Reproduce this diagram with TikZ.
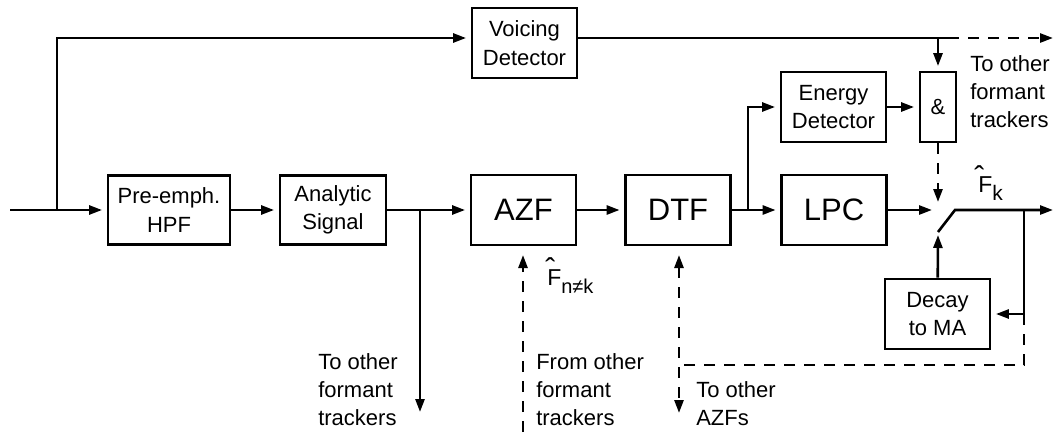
\documentclass[tikz,border=0pt]{standalone}
\usepackage{fontspec}
\setmainfont{Liberation Sans}
\usetikzlibrary{arrows.meta}
\newcommand{\hatF}[2]{\makebox[0pt][l]{\hspace{#1}\raisebox{#2}{\fontsize{30}{30}\selectfont ˆ}}F}
\begin{document}
\begin{tikzpicture}[x=1pt,y=-1pt,
  line width=2.6pt,
  box/.style={draw,line width=2.8pt,minimum width=105pt,minimum height=70pt,inner sep=0pt,align=center,font=\fontsize{22}{28.5}\selectfont},
  bigbox/.style={box,font=\fontsize{31}{36}\selectfont},
  arr/.style={-{Triangle[length=13pt,width=9pt]}},
  toin/.style={arr,shorten >=4.5pt},
  dsh/.style={dash pattern=on 11pt off 9pt},
  lbl/.style={inner sep=0pt,align=left,anchor=north west,font=\fontsize{22}{28}\selectfont},
  flbl/.style={inner sep=0pt,anchor=base west,font=\fontsize{23}{23}\selectfont}]
\useasboundingbox (0,0) rectangle (1058,432);
% boxes
\node[box,minimum width=122pt,minimum height=69pt] (pre) at (169,210) {Pre-emph.\\HPF};
\node[box,minimum width=106pt,minimum height=69pt] (ana) at (333,210) {Analytic\\Signal};
\node[bigbox] (azf) at (523.5,210) {AZF};
\node[bigbox] (dtf) at (678,210) {DTF};
\node[bigbox] (lpc) at (834,210) {LPC};
\node[box] (voice) at (524.5,43) {Voicing\\Detector};
\node[box] (energy) at (833.5,107) {Energy\\Detector};
\node[box,minimum width=36pt] (and) at (938,107) {\&};
\node[box] (decay) at (937.5,314) {Decay\\to MA};
% coordinates
\coordinate (in) at (10,210);
\coordinate (b1) at (57,210);
\coordinate (vt) at (57,38);
\coordinate (vs) at (938,38);
\coordinate (ve) at (948,38);
\coordinate (vout) at (1053,38);
\coordinate (b2) at (420,210);
\coordinate (b2e) at (420,412);
\coordinate (b3) at (748,210);
\coordinate (sw) at (932,210);
\coordinate (swdn) at (938,202);
\coordinate (bl) at (938,232);
\coordinate (bh) at (955,210);
\coordinate (out) at (1053,210);
\coordinate (fb) at (1024,210);
\coordinate (fbj) at (1024,314);
\coordinate (fbc) at (1024,365);
\coordinate (dc) at (679,365);
\coordinate (dtop) at (679,255);
\coordinate (dbot) at (679,413);
\coordinate (azb) at (523,432);
\coordinate (azt) at (523,255);
\coordinate (dtip) at (938,235);
% connectors
\draw[toin] (in) -- (pre);
\draw[toin] (b1) -- (vt) -- (vt -| voice.west);
\draw (voice.east |- vt) -- (ve);
\draw[arr,dsh] (ve) -- (vout);
\draw[toin] (vs) -- (and);
\draw[toin] (pre) -- (ana);
\draw[toin] (ana) -- (azf);
\draw[arr] (b2) -- (b2e);
\draw[toin] (azf) -- (dtf);
\draw[toin] (dtf) -- (lpc);
\draw[toin] (b3) |- (energy);
\draw[toin] (energy) -- (and);
\draw[arr,dsh] (and) -- (swdn);
\draw[arr] (lpc) -- (sw);
\draw[arr] (bl) -- (bh) -- (out);
\draw[arr] (decay) -- (dtip);
\draw (fb) -- (fbj);
\draw[toin] (fbj) -- (decay);
\draw[dsh] (fbj) -- (fbc) -- (dc);
\draw[dsh,{Triangle[length=13pt,width=9pt]}-{Triangle[length=13pt,width=9pt]}] (dtop) -- (dbot);
\draw[dsh,arr] (azb) -- (azt);
% labels
\node[lbl] (l1) at (317,352) {To other\\formant\\trackers};
\node[lbl] (l2) at (535,352) {From other\\formant\\trackers};
\node[lbl] (l3) at (695,380) {To other\\AZFs};
\node[lbl] (l4) at (969,54) {To other\\formant\\trackers};
\node[flbl] (fn) at (546,285) {\hatF{-2pt}{6pt}\raisebox{-8pt}{\fontsize{20}{20}\selectfont n≠k}};
\node[flbl] (fk) at (977,192) {\hatF{-4pt}{5pt}\raisebox{-8pt}{\fontsize{21}{21}\selectfont k}};
\end{tikzpicture}
\end{document}
